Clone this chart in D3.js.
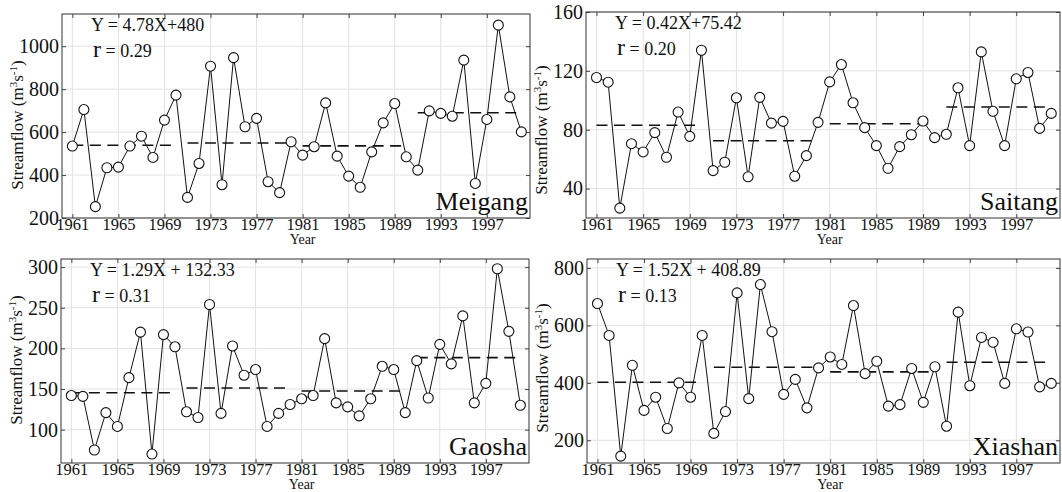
<!DOCTYPE html>
<html>
<head>
<meta charset="utf-8">
<script src="https://cdn.jsdelivr.net/npm/d3@7/dist/d3.min.js"></script>
<style>
  html, body { margin: 0; padding: 0; background: #fff; }
  svg { display: block; font-family: "Liberation Serif", "Times New Roman", serif; }
</style>
</head>
<body>
<script>
// ---------------- DATA ----------------
const years = [1961,1962,1963,1964,1965,1966,1967,1968,1969,1970,
               1971,1972,1973,1974,1975,1976,1977,1978,1979,1980,
               1981,1982,1983,1984,1985,1986,1987,1988,1989,1990,
               1991,1992,1993,1994,1995,1996,1997,1998,1999,2000];
const xTickYears = [1961,1965,1969,1973,1977,1981,1985,1989,1993,1997];
const decades = [[1961,1970],[1971,1980],[1981,1990],[1991,2000]];

const stationNames = ["Meigang","Saitang","Gaosha","Xiashan"];

const meigang = [535,705,253,434,437,535,581,482,656,772,
                 296,454,907,355,947,625,664,369,318,555,
                 493,532,736,488,395,343,508,643,733,485,
                 423,699,687,674,935,361,659,1098,764,601];
const saitang = [115.5,112.3,26.7,70.5,64.9,78,61.3,92,75.5,134,
                 52.2,57.9,101.7,48,102,84.5,85.7,48.4,62.4,85,
                 112.5,124.3,98.3,81.4,69.2,53.8,68.5,76.6,85.9,74.6,
                 76.9,108.5,69.2,132.9,92.5,69.2,114.6,118.9,80.9,91.1];
const gaosha = [142,141,75,121,104,164,220,70,217,202,
                122,115,254,120,203,167,174,104,120,131,
                138,142,212,133,128,117,138,178,174,121,
                185,139,205,181,240,133,157,298,221,130];
const xiashan = [676,565,145,461,304,350,241,400,350,565,
                 224,300,713,345,742,578,360,412,313,452,
                 490,464,669,432,475,319,324,450,332,456,
                 249,646,390,558,541,398,588,577,386,398];

const meigangMeans = [539,549,536,690];
const saitangMeans = [83,72.5,84.1,95.4];
const gaoshaMeans  = [145.5,151.3,147.6,188.6];
const xiashanMeans = [402,454.4,438,471.8];

const meigangTicks = [200,400,600,800,1000];
const saitangTicks = [40,80,120,160];
const gaoshaTicks  = [100,150,200,250,300];
const xiashanTicks = [200,400,600,800];

const meigangDomain = [200,1150];
const saitangDomain = [20,160];
const gaoshaDomain  = [59,310];
const xiashanDomain = [121,831];

const equations = ["Y = 4.78X+480","Y = 0.42X+75.42","Y = 1.29X + 132.33","Y = 1.52X + 408.89"];
const rValues   = ["= 0.29","= 0.20","= 0.31","= 0.13"];

// ---------------- LAYOUT ----------------
const W = 1062, H = 492;
const FONT = '"Liberation Serif", "Times New Roman", serif';
const boxes = [
  {L:62,  R:530,  T:14,  B:218, labelY:125},
  {L:586, R:1060, T:12,  B:218, labelY:130},
  {L:61,  R:529,  T:259, B:463, labelY:360},
  {L:587, R:1060, T:259, B:463, labelY:368}
];
const series = [meigang, saitang, gaosha, xiashan];
const means  = [meigangMeans, saitangMeans, gaoshaMeans, xiashanMeans];
const ticks  = [meigangTicks, saitangTicks, gaoshaTicks, xiashanTicks];
const domains= [meigangDomain, saitangDomain, gaoshaDomain, xiashanDomain];

const svg = d3.select("body").append("svg").attr("width", W).attr("height", H);

boxes.forEach((b, i) => {
  const x = d3.scaleLinear().domain([1960.1, 2000.75]).range([b.L, b.R]);
  const y = d3.scaleLinear().domain(domains[i]).range([b.B, b.T]);
  const g = svg.append("g");

  // grid
  g.append("g").selectAll("line").data(xTickYears).join("line")
    .attr("x1", d => x(d)).attr("x2", d => x(d))
    .attr("y1", b.T).attr("y2", b.B)
    .attr("stroke", "#e2e2e2").attr("stroke-width", 1);
  g.append("g").selectAll("line").data(ticks[i]).join("line")
    .attr("x1", b.L).attr("x2", b.R)
    .attr("y1", d => y(d)).attr("y2", d => y(d))
    .attr("stroke", "#e2e2e2").attr("stroke-width", 1);

  // axes
  const ax = g.append("g").attr("transform", `translate(0,${b.B})`)
    .call(d3.axisBottom(x).tickValues(xTickYears).tickSize(-4).tickPadding(0).tickFormat(d3.format("d")));
  const axT = g.append("g").attr("transform", `translate(0,${b.T})`)
    .call(d3.axisTop(x).tickValues(xTickYears).tickSize(-4).tickFormat(""));
  const ay = g.append("g").attr("transform", `translate(${b.L},0)`)
    .call(d3.axisLeft(y).tickValues(ticks[i]).tickSize(-4).tickPadding(3).tickFormat(d3.format("d")));
  const ayR = g.append("g").attr("transform", `translate(${b.R},0)`)
    .call(d3.axisRight(y).tickValues(ticks[i]).tickSize(-4).tickFormat(""));
  [ax, axT, ay, ayR].forEach(a => {
    a.attr("font-family", FONT);
    a.select(".domain").remove();
    a.selectAll(".tick line").attr("stroke", "#444");
    a.selectAll("text").attr("fill", "#111").style("font-family", FONT);
  });
  ax.selectAll("text").style("font-size", "16.5px");
  ay.selectAll("text").style("font-size", "20px");

  // frame
  g.append("rect").attr("x", b.L).attr("y", b.T)
    .attr("width", b.R - b.L).attr("height", b.B - b.T)
    .attr("fill", "none").attr("stroke", "#333").attr("stroke-width", 1);

  // decadal means (dashed)
  g.append("g").selectAll("line").data(decades).join("line")
    .attr("x1", d => x(d[0])).attr("x2", d => x(d[1]))
    .attr("y1", (d, k) => y(means[i][k])).attr("y2", (d, k) => y(means[i][k]))
    .attr("stroke", "#111").attr("stroke-width", 1.6)
    .attr("stroke-dasharray", "11,6.5");

  // series line
  const line = d3.line().x((d, k) => x(years[k])).y(d => y(d));
  g.append("path").datum(series[i]).attr("d", line)
    .attr("fill", "none").attr("stroke", "#111").attr("stroke-width", 1);
  g.append("g").selectAll("circle").data(series[i]).join("circle")
    .attr("cx", (d, k) => x(years[k])).attr("cy", d => y(d)).attr("r", 5)
    .attr("fill", "#fff").attr("stroke", "#111").attr("stroke-width", 1.1);

  // equation text
  g.append("text").attr("x", b.L + 29).attr("y", b.T + 17)
    .style("font-size", "18px").attr("fill", "#111").text(equations[i]);
  const rt = g.append("text").attr("x", b.L + 31).attr("y", b.T + 43).attr("fill", "#111");
  rt.append("tspan").style("font-size", "24px").text("r");
  rt.append("tspan").style("font-size", "18px").text(" " + rValues[i]);

  // station name
  g.append("text").attr("x", b.R - 2).attr("y", b.B - 8)
    .attr("text-anchor", "end").style("font-size", "26px").attr("fill", "#111")
    .text(stationNames[i]);

  // x label
  g.append("text").attr("x", x(1981)).attr("y", b.B + 26)
    .attr("text-anchor", "middle").style("font-size", "14px").attr("fill", "#111")
    .text("Year");

  // y label
  const lx = b.L - 39;
  const yl = g.append("text")
    .attr("transform", `translate(${lx},${b.labelY}) rotate(-90)`)
    .attr("text-anchor", "middle").style("font-size", "17px").attr("fill", "#111");
  yl.append("tspan").text("Streamflow  (m");
  yl.append("tspan").attr("dy", -6).style("font-size", "11px").text("3");
  yl.append("tspan").attr("dy", 6).text("s");
  yl.append("tspan").attr("dy", -6).style("font-size", "11px").text("-1");
  yl.append("tspan").attr("dy", 6).text(")");
});
</script>
</body>
</html>
